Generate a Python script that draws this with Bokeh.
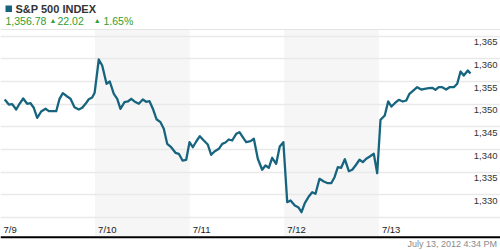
from bokeh.plotting import figure
from bokeh.models import Label, BoxAnnotation, FixedTicker, Grid, Span
from bokeh.core.properties import value
from bokeh.embed import file_html
from bokeh.resources import INLINE

# ---------------- data ----------------
title = "S&P 500 INDEX"
last_value = "1,356.78"
change_abs = "22.02"
change_pct = "1.65%"
timestamp = "July 13, 2012 4:34 PM"

day_labels = ["7/9", "7/10", "7/11", "7/12", "7/13"]
day_starts = [0, 1, 2, 3, 4]          # trading-day positions
shaded_days = [1, 3]                  # 7/10 and 7/12

y_ticks = [1325, 1330, 1335, 1340, 1345, 1350, 1355, 1360, 1365]
y_tick_labels = ["", "1,330", "1,335", "1,340", "1,345", "1,350", "1,355", "1,360", "1,365"]

# time in trading days since 7/9 open
t = [0.045, 0.088, 0.124, 0.166, 0.201, 0.240, 0.282, 0.317, 0.352, 0.388,
     0.430, 0.476, 0.511, 0.547, 0.589, 0.624, 0.659, 0.705, 0.740, 0.782,
     0.828, 0.864, 0.899, 0.933, 0.969, 0.995,
     1.039, 1.075, 1.121, 1.155, 1.198, 1.234, 1.268, 1.311, 1.346, 1.382,
     1.416, 1.462, 1.504, 1.540, 1.575, 1.614, 1.649, 1.691, 1.726, 1.762,
     1.804, 1.850, 1.885, 1.924, 1.963, 1.998,
     2.033, 2.069, 2.107, 2.149, 2.191, 2.227, 2.262, 2.308, 2.344, 2.378,
     2.413, 2.449, 2.492, 2.526, 2.561, 2.597, 2.643, 2.678, 2.720, 2.766,
     2.801, 2.836, 2.872, 2.914, 2.952, 2.990,
     3.031, 3.066, 3.111, 3.147, 3.182, 3.217, 3.259, 3.295, 3.330, 3.372,
     3.418, 3.460, 3.496, 3.531, 3.566, 3.601, 3.640, 3.682, 3.718, 3.753,
     3.795, 3.830, 3.866, 3.904, 3.946, 3.982,
     4.017, 4.062, 4.098, 4.133, 4.168, 4.210, 4.253, 4.289, 4.323, 4.363,
     4.405, 4.447, 4.482, 4.528, 4.563, 4.598, 4.633, 4.669, 4.711, 4.746,
     4.792, 4.828, 4.863, 4.897, 4.940, 4.968]

price = [1351.06, 1349.95, 1350.05, 1348.85, 1350.11, 1351.28, 1350.11, 1350.24, 1349.23, 1347.02,
         1348.41, 1349.01, 1348.48, 1348.48, 1348.48, 1351.21, 1352.45, 1351.72, 1351.21, 1349.36,
         1348.85, 1349.23, 1350.11, 1351.12, 1351.50, 1352.54,
         1359.88, 1358.56, 1354.52, 1355.03, 1352.32, 1351.21, 1349.01, 1350.46, 1350.62, 1351.21,
         1350.62, 1350.11, 1351.06, 1350.55, 1350.68, 1348.85, 1346.71, 1346.05, 1344.59, 1341.28,
         1340.53, 1339.30, 1339.08, 1337.60, 1337.76, 1341.64,
         1340.53, 1341.79, 1342.96, 1342.01, 1341.13, 1338.86, 1339.59, 1340.18, 1341.28, 1341.57,
         1342.23, 1342.01, 1343.49, 1343.84, 1342.74, 1341.64, 1341.86, 1342.39, 1337.98, 1335.55,
         1336.50, 1335.99, 1338.20, 1336.87, 1340.69, 1341.64,
         1328.40, 1328.78, 1327.67, 1327.30, 1326.20, 1328.18, 1329.66, 1330.61, 1330.25, 1333.56,
         1332.97, 1332.59, 1332.59, 1333.92, 1336.12, 1335.99, 1337.89, 1335.24, 1335.55, 1336.50,
         1337.76, 1337.23, 1337.98, 1338.48, 1339.08, 1334.80,
         1346.58, 1347.53, 1350.62, 1349.51, 1350.24, 1350.99, 1350.62, 1350.84, 1352.32, 1353.04,
         1353.77, 1353.26, 1353.42, 1353.55, 1353.64, 1353.20, 1353.77, 1353.77, 1353.26, 1353.77,
         1353.77, 1354.52, 1357.23, 1356.35, 1357.46, 1356.78]

# ---------------- layout ----------------
W, H = 500, 250
DAY_PX = 94.6          # pixels per trading day
PX_PER_PT = 4.533      # pixels per index point
TOP_TICK_PY = 35.8     # pixel row of the top gridline
Y_TOP = y_ticks[-1] + TOP_TICK_PY / PX_PER_PT
Y_BOT = Y_TOP - H / PX_PER_PT


def px2x(px):
    return px / DAY_PX


def py2y(py):
    return Y_TOP - py / PX_PER_PT


LINE_COLOR = "#17647e"
GREEN = "#2f9e2f"
FONT = "Liberation Sans"

p = figure(width=W, height=H, x_range=(0, W / DAY_PX), y_range=(Y_BOT, Y_TOP),
           output_backend="svg", toolbar_location=None, min_border=0,
           x_axis_location=None, y_axis_location=None,
           outline_line_color=None, background_fill_color="white",
           border_fill_color="white")
p.grid.visible = False

# shaded alternate days
for d in shaded_days:
    p.add_layout(BoxAnnotation(left=d, right=d + 1, top=py2y(29.5), bottom=py2y(235.6),
                               fill_color="#f6f6f6", fill_alpha=1, line_color=None,
                               level="image"))

grid = Grid(dimension=1, ticker=FixedTicker(ticks=y_ticks), grid_line_color="#e9e9e9",
            grid_line_width=1.5, level="underlay")
p.add_layout(grid)

# header separator and bottom rule
p.add_layout(Span(location=py2y(29), dimension="width", line_color="#e4e4e4", line_width=1))
p.add_layout(Span(location=py2y(236.7), dimension="width", line_color="#000000", line_width=2))

# price line
p.line(t, price, line_color=LINE_COLOR, line_width=2.3, line_join="round")

# y tick labels
p.text(x=[W / DAY_PX] * len(y_ticks), y=y_ticks, text=y_tick_labels, text_align="right",
       text_baseline="middle", x_offset=-3, y_offset=6, text_font=value(FONT),
       text_font_size="9.5px", text_color="#333333")

# day labels
p.text(x=day_starts, y=[y_ticks[0]] * len(day_starts), text=day_labels, text_align="left",
       text_baseline="middle", x_offset=3, y_offset=12, text_font=value(FONT),
       text_font_size="9.5px", text_color="#222222")

# header
p.add_layout(BoxAnnotation(left=px2x(5), right=px2x(11.5), top=py2y(5), bottom=py2y(11.5),
                           fill_color=LINE_COLOR, fill_alpha=1, line_color=None))
p.add_layout(Label(x=px2x(15), y=py2y(8.2), text=title, text_font=FONT,
                   text_font_style="bold", text_font_size="11px", text_color="#333333",
                   text_baseline="middle"))
p.add_layout(Label(x=px2x(5), y=py2y(20.5), text=last_value, text_font=FONT,
                   text_font_size="10.5px", text_color=GREEN, text_baseline="middle"))
p.add_layout(Label(x=px2x(52.5), y=py2y(20.3), text="\u25b2", text_font=FONT,
                   text_font_size="7px", text_color=GREEN, text_baseline="middle",
                   text_align="center"))
p.add_layout(Label(x=px2x(57), y=py2y(20.5), text=change_abs, text_font=FONT,
                   text_font_size="10.5px", text_color=GREEN, text_baseline="middle"))
p.add_layout(Label(x=px2x(96.8), y=py2y(20.3), text="\u25b2", text_font=FONT,
                   text_font_size="7px", text_color=GREEN, text_baseline="middle",
                   text_align="center"))
p.add_layout(Label(x=px2x(103), y=py2y(20.5), text=change_pct, text_font=FONT,
                   text_font_size="10.5px", text_color=GREEN, text_baseline="middle"))

# footer timestamp
p.add_layout(Label(x=px2x(496.5), y=py2y(243.5), text=timestamp, text_font=FONT,
                   text_font_size="9px", text_color="#8a8a8a", text_baseline="middle",
                   text_align="right"))

open("out.html", "w").write(file_html(p, INLINE))
